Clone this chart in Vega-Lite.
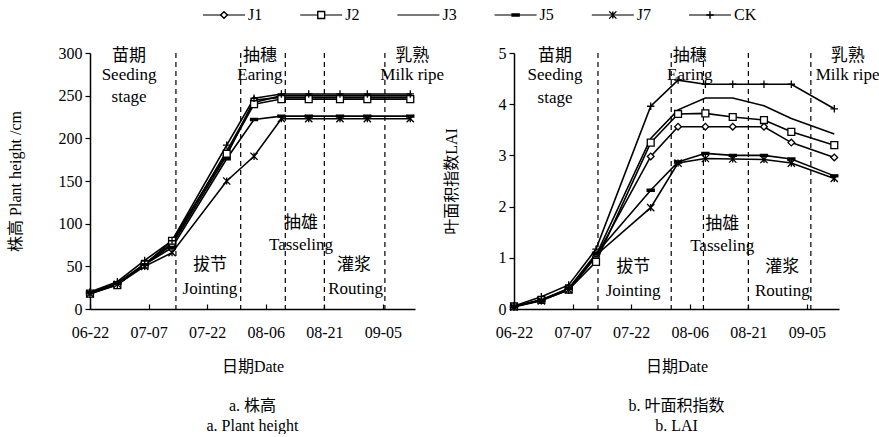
{
  "$schema": "https://vega.github.io/schema/vega-lite/v6.json",
  "background": "white",
  "padding": {"left": 7, "top": 5, "right": 0, "bottom": 0},
  "config": {
    "font": "Liberation Serif, Noto Sans CJK SC",
    "view": {"stroke": null},
    "axis": {
      "grid": false,
      "domainColor": "black",
      "domainWidth": 1.5,
      "tickColor": "black",
      "tickWidth": 1.2,
      "labelColor": "black",
      "titleColor": "black",
      "labelFontSize": 16,
      "titleFontSize": 16,
      "titleFontWeight": "normal",
      "labelFont": "Liberation Serif, Noto Sans CJK SC",
      "titleFont": "Liberation Serif, Noto Sans CJK SC"
    },
    "title": {"font": "Liberation Serif, Noto Sans CJK SC", "fontSize": 16, "fontWeight": "normal", "color": "black", "lineHeight": 20},
    "text": {"font": "Liberation Serif, Noto Sans CJK SC", "color": "black"}
  },
  "datasets": {
    "legend": [
      {"series": "J1"}, {"series": "J2"}, {"series": "J3"}, {"series": "J5"}, {"series": "J7"}, {"series": "CK"}
    ],
    "height": [
      {"series": "J1", "date": "2019-06-22", "value": 18},
      {"series": "J1", "date": "2019-06-29", "value": 29},
      {"series": "J1", "date": "2019-07-06", "value": 52},
      {"series": "J1", "date": "2019-07-13", "value": 75},
      {"series": "J1", "date": "2019-07-27", "value": 180},
      {"series": "J1", "date": "2019-08-03", "value": 245},
      {"series": "J1", "date": "2019-08-10", "value": 248},
      {"series": "J1", "date": "2019-08-17", "value": 248},
      {"series": "J1", "date": "2019-08-25", "value": 248},
      {"series": "J1", "date": "2019-09-01", "value": 248},
      {"series": "J1", "date": "2019-09-12", "value": 248},
      {"series": "J2", "date": "2019-06-22", "value": 18},
      {"series": "J2", "date": "2019-06-29", "value": 28},
      {"series": "J2", "date": "2019-07-06", "value": 52},
      {"series": "J2", "date": "2019-07-13", "value": 80},
      {"series": "J2", "date": "2019-07-27", "value": 182},
      {"series": "J2", "date": "2019-08-03", "value": 240},
      {"series": "J2", "date": "2019-08-10", "value": 246},
      {"series": "J2", "date": "2019-08-17", "value": 246},
      {"series": "J2", "date": "2019-08-25", "value": 246},
      {"series": "J2", "date": "2019-09-01", "value": 246},
      {"series": "J2", "date": "2019-09-12", "value": 246},
      {"series": "J3", "date": "2019-06-22", "value": 19},
      {"series": "J3", "date": "2019-06-29", "value": 30},
      {"series": "J3", "date": "2019-07-06", "value": 53},
      {"series": "J3", "date": "2019-07-13", "value": 77},
      {"series": "J3", "date": "2019-07-27", "value": 185},
      {"series": "J3", "date": "2019-08-03", "value": 242},
      {"series": "J3", "date": "2019-08-10", "value": 250},
      {"series": "J3", "date": "2019-08-17", "value": 250},
      {"series": "J3", "date": "2019-08-25", "value": 250},
      {"series": "J3", "date": "2019-09-01", "value": 250},
      {"series": "J3", "date": "2019-09-12", "value": 250},
      {"series": "J5", "date": "2019-06-22", "value": 19},
      {"series": "J5", "date": "2019-06-29", "value": 30},
      {"series": "J5", "date": "2019-07-06", "value": 52},
      {"series": "J5", "date": "2019-07-13", "value": 72},
      {"series": "J5", "date": "2019-07-27", "value": 176},
      {"series": "J5", "date": "2019-08-03", "value": 222},
      {"series": "J5", "date": "2019-08-10", "value": 226},
      {"series": "J5", "date": "2019-08-17", "value": 226},
      {"series": "J5", "date": "2019-08-25", "value": 226},
      {"series": "J5", "date": "2019-09-01", "value": 226},
      {"series": "J5", "date": "2019-09-12", "value": 226},
      {"series": "J7", "date": "2019-06-22", "value": 18},
      {"series": "J7", "date": "2019-06-29", "value": 29},
      {"series": "J7", "date": "2019-07-06", "value": 50},
      {"series": "J7", "date": "2019-07-13", "value": 66},
      {"series": "J7", "date": "2019-07-27", "value": 150},
      {"series": "J7", "date": "2019-08-03", "value": 179},
      {"series": "J7", "date": "2019-08-10", "value": 223},
      {"series": "J7", "date": "2019-08-17", "value": 223},
      {"series": "J7", "date": "2019-08-25", "value": 223},
      {"series": "J7", "date": "2019-09-01", "value": 223},
      {"series": "J7", "date": "2019-09-12", "value": 223},
      {"series": "CK", "date": "2019-06-22", "value": 20},
      {"series": "CK", "date": "2019-06-29", "value": 32},
      {"series": "CK", "date": "2019-07-06", "value": 57},
      {"series": "CK", "date": "2019-07-13", "value": 80},
      {"series": "CK", "date": "2019-07-27", "value": 192},
      {"series": "CK", "date": "2019-08-03", "value": 247},
      {"series": "CK", "date": "2019-08-10", "value": 252},
      {"series": "CK", "date": "2019-08-17", "value": 252},
      {"series": "CK", "date": "2019-08-25", "value": 252},
      {"series": "CK", "date": "2019-09-01", "value": 252},
      {"series": "CK", "date": "2019-09-12", "value": 252}
    ],
    "lai": [
      {"series": "J1", "date": "2019-06-22", "value": 0.05},
      {"series": "J1", "date": "2019-06-29", "value": 0.17},
      {"series": "J1", "date": "2019-07-06", "value": 0.37},
      {"series": "J1", "date": "2019-07-13", "value": 1.02},
      {"series": "J1", "date": "2019-07-27", "value": 2.98},
      {"series": "J1", "date": "2019-08-03", "value": 3.56},
      {"series": "J1", "date": "2019-08-10", "value": 3.56},
      {"series": "J1", "date": "2019-08-17", "value": 3.56},
      {"series": "J1", "date": "2019-08-25", "value": 3.56},
      {"series": "J1", "date": "2019-09-01", "value": 3.25},
      {"series": "J1", "date": "2019-09-12", "value": 2.96},
      {"series": "J2", "date": "2019-06-22", "value": 0.05},
      {"series": "J2", "date": "2019-06-29", "value": 0.18},
      {"series": "J2", "date": "2019-07-06", "value": 0.38},
      {"series": "J2", "date": "2019-07-13", "value": 0.92},
      {"series": "J2", "date": "2019-07-27", "value": 3.25},
      {"series": "J2", "date": "2019-08-03", "value": 3.81},
      {"series": "J2", "date": "2019-08-10", "value": 3.82},
      {"series": "J2", "date": "2019-08-17", "value": 3.75},
      {"series": "J2", "date": "2019-08-25", "value": 3.69},
      {"series": "J2", "date": "2019-09-01", "value": 3.46},
      {"series": "J2", "date": "2019-09-12", "value": 3.2},
      {"series": "J3", "date": "2019-06-22", "value": 0.05},
      {"series": "J3", "date": "2019-06-29", "value": 0.18},
      {"series": "J3", "date": "2019-07-06", "value": 0.4},
      {"series": "J3", "date": "2019-07-13", "value": 1.05},
      {"series": "J3", "date": "2019-07-27", "value": 3.33},
      {"series": "J3", "date": "2019-08-03", "value": 3.89},
      {"series": "J3", "date": "2019-08-10", "value": 4.12},
      {"series": "J3", "date": "2019-08-17", "value": 4.12},
      {"series": "J3", "date": "2019-08-25", "value": 3.97},
      {"series": "J3", "date": "2019-09-01", "value": 3.72},
      {"series": "J3", "date": "2019-09-12", "value": 3.42},
      {"series": "J5", "date": "2019-06-22", "value": 0.05},
      {"series": "J5", "date": "2019-06-29", "value": 0.17},
      {"series": "J5", "date": "2019-07-06", "value": 0.4},
      {"series": "J5", "date": "2019-07-13", "value": 1.08},
      {"series": "J5", "date": "2019-07-27", "value": 2.32},
      {"series": "J5", "date": "2019-08-03", "value": 2.87},
      {"series": "J5", "date": "2019-08-10", "value": 3.04},
      {"series": "J5", "date": "2019-08-17", "value": 3.0},
      {"series": "J5", "date": "2019-08-25", "value": 3.0},
      {"series": "J5", "date": "2019-09-01", "value": 2.93},
      {"series": "J5", "date": "2019-09-12", "value": 2.6},
      {"series": "J7", "date": "2019-06-22", "value": 0.04},
      {"series": "J7", "date": "2019-06-29", "value": 0.16},
      {"series": "J7", "date": "2019-07-06", "value": 0.38},
      {"series": "J7", "date": "2019-07-13", "value": 1.05},
      {"series": "J7", "date": "2019-07-27", "value": 1.98},
      {"series": "J7", "date": "2019-08-03", "value": 2.85},
      {"series": "J7", "date": "2019-08-10", "value": 2.94},
      {"series": "J7", "date": "2019-08-17", "value": 2.93},
      {"series": "J7", "date": "2019-08-25", "value": 2.92},
      {"series": "J7", "date": "2019-09-01", "value": 2.85},
      {"series": "J7", "date": "2019-09-12", "value": 2.55},
      {"series": "CK", "date": "2019-06-22", "value": 0.06},
      {"series": "CK", "date": "2019-06-29", "value": 0.24},
      {"series": "CK", "date": "2019-07-06", "value": 0.47},
      {"series": "CK", "date": "2019-07-13", "value": 1.17},
      {"series": "CK", "date": "2019-07-27", "value": 3.96},
      {"series": "CK", "date": "2019-08-03", "value": 4.47},
      {"series": "CK", "date": "2019-08-10", "value": 4.39},
      {"series": "CK", "date": "2019-08-17", "value": 4.39},
      {"series": "CK", "date": "2019-08-25", "value": 4.39},
      {"series": "CK", "date": "2019-09-01", "value": 4.39},
      {"series": "CK", "date": "2019-09-12", "value": 3.91}
    ],
    "stagesL": [
      {"date": "2019-07-14T00:00:00Z"},
      {"date": "2019-07-30T14:00:00Z"},
      {"date": "2019-08-11T00:00:00Z"},
      {"date": "2019-08-21T00:00:00Z"},
      {"date": "2019-09-05T12:00:00Z"}
    ],
    "stagesR": [
      {"date": "2019-07-13T12:00:00Z"},
      {"date": "2019-08-01T06:00:00Z"},
      {"date": "2019-08-09T12:00:00Z"},
      {"date": "2019-08-21T00:00:00Z"},
      {"date": "2019-09-06T00:00:00Z"}
    ],
    "notesL": [
      {"label": "苗期", "date": "2019-07-02T00:00:00Z", "value": 296},
      {"label": "Seeding", "date": "2019-07-02T00:00:00Z", "value": 274},
      {"label": "stage", "date": "2019-07-02T00:00:00Z", "value": 248},
      {"label": "抽穗", "date": "2019-08-04T12:00:00Z", "value": 296},
      {"label": "Earing", "date": "2019-08-04T12:00:00Z", "value": 274},
      {"label": "乳熟", "date": "2019-09-12T12:00:00Z", "value": 296},
      {"label": "Milk ripe", "date": "2019-09-12T12:00:00Z", "value": 274},
      {"label": "拔节", "date": "2019-07-22T17:00:00Z", "value": 51},
      {"label": "Jointing", "date": "2019-07-22T17:00:00Z", "value": 23},
      {"label": "抽雄", "date": "2019-08-15T00:00:00Z", "value": 101},
      {"label": "Tasseling", "date": "2019-08-15T00:00:00Z", "value": 75},
      {"label": "灌浆", "date": "2019-08-28T14:00:00Z", "value": 51},
      {"label": "Routing", "date": "2019-08-29T00:00:00Z", "value": 23}
    ],
    "notesR": [
      {"label": "苗期", "date": "2019-07-02T12:00:00Z", "value": 4.94},
      {"label": "Seeding", "date": "2019-07-02T12:00:00Z", "value": 4.57},
      {"label": "stage", "date": "2019-07-02T12:00:00Z", "value": 4.13},
      {"label": "抽穗", "date": "2019-08-06T00:00:00Z", "value": 4.94},
      {"label": "Earing", "date": "2019-08-06T00:00:00Z", "value": 4.57},
      {"label": "乳熟", "date": "2019-09-15T10:00:00Z", "value": 4.94},
      {"label": "Milk ripe", "date": "2019-09-15T10:00:00Z", "value": 4.57},
      {"label": "拔节", "date": "2019-07-22T12:00:00Z", "value": 0.83},
      {"label": "Jointing", "date": "2019-07-22T12:00:00Z", "value": 0.36},
      {"label": "抽雄", "date": "2019-08-14T07:00:00Z", "value": 1.66},
      {"label": "Tasseling", "date": "2019-08-14T07:00:00Z", "value": 1.23},
      {"label": "灌浆", "date": "2019-08-29T17:00:00Z", "value": 0.83},
      {"label": "Routing", "date": "2019-08-29T17:00:00Z", "value": 0.36}
    ]
  },
  "spacing": 20,
  "vconcat": [
    {
      "width": 760,
      "height": 20,
      "data": {"name": "legend"},
      "layer": [
        {
          "mark": {"type": "tick", "orient": "horizontal", "size": 42, "thickness": 1.6, "color": "black"},
          "encoding": {
            "x": {"field": "series", "type": "nominal", "axis": null,
                  "scale": {"type": "point", "padding": 0, "domain": ["J1", "J2", "J3", "J5", "J7", "CK"], "range": [134, 620]}}
          }
        },
        {
          "transform": [{"filter": "datum.series != 'J3'"}],
          "mark": {"type": "point", "filled": true, "stroke": "black", "strokeWidth": 1.4, "opacity": 1},
          "encoding": {
            "x": {"field": "series", "type": "nominal"},
            "shape": {"field": "series", "type": "nominal", "legend": null,
                      "scale": {"domain": ["J1", "J2", "J5", "J7", "CK"], "range": ["diamond", "square", "M-1,-0.3L1,-0.3L1,0.3L-1,0.3Z", "M-1,-1L1,1M-1,1L1,-1M0,-1L0,1", "M-1,0L1,0M0,-1L0,1"]}},
            "fill": {"field": "series", "type": "nominal", "legend": null,
                     "scale": {"domain": ["J1", "J2", "J5", "J7", "CK"], "range": ["white", "white", "black", "transparent", "transparent"]}},
            "size": {"field": "series", "type": "nominal", "legend": null,
                     "scale": {"domain": ["J1", "J2", "J5", "J7", "CK"], "range": [45, 55, 60, 70, 130]}}
          }
        },
        {
          "mark": {"type": "text", "align": "left", "baseline": "middle", "dx": 24, "fontSize": 16},
          "encoding": {
            "x": {"field": "series", "type": "nominal"},
            "text": {"field": "series"}
          }
        }
      ]
    },
    {
      "spacing": -2,
      "hconcat": [
        {
          "width": 325,
          "height": 256,
          "title": {"text": ["a. 株高", "a. Plant height"], "orient": "bottom", "offset": 24, "anchor": "middle"},
          "layer": [
            {
              "data": {"name": "stagesL"},
              "mark": {"type": "rule", "strokeDash": [5, 4], "color": "black", "strokeWidth": 1.2},
              "encoding": {
                "x": {"field": "date", "type": "temporal"}
              }
            },
            {
              "data": {"name": "height"},
              "mark": {"type": "line", "color": "black", "strokeWidth": 1.6},
              "encoding": {
                "x": {"field": "date", "type": "temporal",
                      "scale": {"type": "utc", "nice": false,
                                "domain": [{"year": 2019, "month": 6, "date": 22, "utc": true}, {"year": 2019, "month": 9, "date": 13, "hours": 5, "utc": true}]},
                      "axis": {
                        "values": [
                          {"year": 2019, "month": 6, "date": 22, "utc": true},
                          {"year": 2019, "month": 7, "date": 7, "utc": true},
                          {"year": 2019, "month": 7, "date": 22, "utc": true},
                          {"year": 2019, "month": 8, "date": 6, "utc": true},
                          {"year": 2019, "month": 8, "date": 21, "utc": true},
                          {"year": 2019, "month": 9, "date": 5, "utc": true}
                        ],
                        "labelExpr": "utcFormat(datum.value, '%m-%d')",
                        "tickSize": -5, "labelPadding": 20, "labelFlush": false, "labelOverlap": false,
                        "title": "日期Date", "titlePadding": 18
                      }},
                "y": {"field": "value", "type": "quantitative",
                      "scale": {"domain": [0, 300], "nice": false},
                      "axis": {"values": [0, 50, 100, 150, 200, 250, 300], "title": "株高 Plant height /cm", "titlePadding": 35, "tickSize": 5, "labelPadding": 3}},
                "detail": {"field": "series"}
              }
            },
            {
              "data": {"name": "height"},
              "transform": [{"filter": "datum.series != 'J3'"}],
              "mark": {"type": "point", "filled": true, "stroke": "black", "strokeWidth": 1.3, "opacity": 1},
              "encoding": {
                "x": {"field": "date", "type": "temporal"},
                "y": {"field": "value", "type": "quantitative"},
                "shape": {"field": "series", "type": "nominal", "legend": null},
                "fill": {"field": "series", "type": "nominal", "legend": null},
                "size": {"field": "series", "type": "nominal", "legend": null}
              }
            },
            {
              "data": {"name": "notesL"},
              "mark": {"type": "text", "fontSize": 17, "baseline": "middle", "align": "center"},
              "encoding": {
                "x": {"field": "date", "type": "temporal"},
                "y": {"field": "value", "type": "quantitative"},
                "text": {"field": "label"}
              }
            }
          ]
        },
        {
          "width": 325,
          "height": 256,
          "title": {"text": ["b. 叶面积指数", "b. LAI"], "orient": "bottom", "offset": 24, "anchor": "middle"},
          "layer": [
            {
              "data": {"name": "stagesR"},
              "mark": {"type": "rule", "strokeDash": [5, 4], "color": "black", "strokeWidth": 1.2},
              "encoding": {
                "x": {"field": "date", "type": "temporal"}
              }
            },
            {
              "data": {"name": "lai"},
              "mark": {"type": "line", "color": "black", "strokeWidth": 1.6},
              "encoding": {
                "x": {"field": "date", "type": "temporal",
                      "scale": {"type": "utc", "nice": false,
                                "domain": [{"year": 2019, "month": 6, "date": 22, "utc": true}, {"year": 2019, "month": 9, "date": 13, "hours": 5, "utc": true}]},
                      "axis": {
                        "values": [
                          {"year": 2019, "month": 6, "date": 22, "utc": true},
                          {"year": 2019, "month": 7, "date": 7, "utc": true},
                          {"year": 2019, "month": 7, "date": 22, "utc": true},
                          {"year": 2019, "month": 8, "date": 6, "utc": true},
                          {"year": 2019, "month": 8, "date": 21, "utc": true},
                          {"year": 2019, "month": 9, "date": 5, "utc": true}
                        ],
                        "labelExpr": "utcFormat(datum.value, '%m-%d')",
                        "tickSize": -5, "labelPadding": 20, "labelFlush": false, "labelOverlap": false,
                        "title": "日期Date", "titlePadding": 18
                      }},
                "y": {"field": "value", "type": "quantitative",
                      "scale": {"domain": [0, 5], "nice": false},
                      "axis": {"values": [0, 1, 2, 3, 4, 5], "title": "叶面积指数LAI", "titlePadding": 39, "tickSize": 5, "labelPadding": 3}},
                "detail": {"field": "series"}
              }
            },
            {
              "data": {"name": "lai"},
              "transform": [{"filter": "datum.series != 'J3'"}],
              "mark": {"type": "point", "filled": true, "stroke": "black", "strokeWidth": 1.3, "opacity": 1},
              "encoding": {
                "x": {"field": "date", "type": "temporal"},
                "y": {"field": "value", "type": "quantitative"},
                "shape": {"field": "series", "type": "nominal", "legend": null},
                "fill": {"field": "series", "type": "nominal", "legend": null},
                "size": {"field": "series", "type": "nominal", "legend": null}
              }
            },
            {
              "data": {"name": "notesR"},
              "mark": {"type": "text", "fontSize": 17, "baseline": "middle", "align": "center"},
              "encoding": {
                "x": {"field": "date", "type": "temporal"},
                "y": {"field": "value", "type": "quantitative"},
                "text": {"field": "label"}
              }
            }
          ]
        }
      ]
    }
  ]
}
